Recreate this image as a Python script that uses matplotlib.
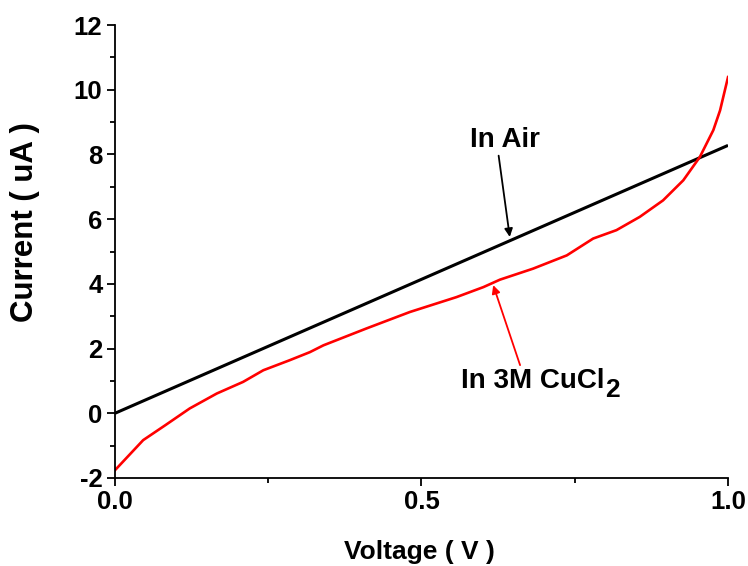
import matplotlib
matplotlib.use("Agg")
import matplotlib.pyplot as plt
from matplotlib.ticker import MultipleLocator

plt.rcParams['font.family'] = ['Liberation Sans', 'DejaVu Sans']
plt.rcParams['font.weight'] = 'bold'
plt.rcParams['axes.unicode_minus'] = False

# Data
air_v = [0.0, 1.0]
air_i = [0.0, 8.28]

cucl2_v = [0.0, 0.046, 0.082, 0.122, 0.166, 0.209, 0.242, 0.285, 0.318, 0.34,
           0.41, 0.481, 0.557, 0.601, 0.628, 0.682, 0.737, 0.780, 0.818, 0.856,
           0.894, 0.927, 0.954, 0.976, 0.987, 1.0]
cucl2_i = [-1.76, -0.83, -0.37, 0.15, 0.61, 0.97, 1.33, 1.64, 1.89, 2.1,
           2.62, 3.13, 3.59, 3.9, 4.13, 4.47, 4.88, 5.40, 5.66, 6.07,
           6.58, 7.2, 7.92, 8.75, 9.36, 10.39]

xticks = [0.0, 0.5, 1.0]
xticklabels = ["0.0", "0.5", "1.0"]
yticks = [-2, 0, 2, 4, 6, 8, 10, 12]

fig = plt.figure(figsize=(7.48, 5.66), dpi=100)
ax = fig.add_axes([0.1537, 0.1555, 0.8196, 0.8003])

ax.plot(air_v, air_i, color='black', lw=2.2, solid_capstyle='butt')
ax.plot(cucl2_v, cucl2_i, color='red', lw=1.9, solid_joinstyle='round')

ax.set_xlim(0, 1.0)
ax.set_ylim(-2, 12)
ax.set_xticks(xticks)
ax.set_xticklabels(xticklabels)
ax.set_yticks(yticks)
ax.xaxis.set_minor_locator(MultipleLocator(0.25))
ax.yaxis.set_minor_locator(MultipleLocator(1))

for s in ['top', 'right']:
    ax.spines[s].set_visible(False)
for s in ['left', 'bottom']:
    ax.spines[s].set_linewidth(1.3)

ax.tick_params(which='major', direction='out', length=6, width=1.3, labelsize=18.5, pad=3)
ax.tick_params(which='minor', direction='out', length=3.5, width=1.3)
for lab in ax.get_xticklabels() + ax.get_yticklabels():
    lab.set_fontweight('bold')

ax.set_xlabel("Voltage ( V )", fontsize=19, fontweight='bold')
ax.set_ylabel("Current ( uA )", fontsize=22.5, fontweight='bold')
ax.xaxis.set_label_coords(0.497, -0.137)
ax.yaxis.set_label_coords(-0.123, 0.565)

ax.annotate("In Air", xy=(0.644, 5.45), xytext=(0.579, 8.45),
            fontsize=20, fontweight='bold', ha='left', va='center',
            arrowprops=dict(arrowstyle='-|>', color='black', lw=1.3,
                            mutation_scale=12, shrinkA=0, shrinkB=0,
                            relpos=(0.39, 0.3)))
ann = ax.annotate("In 3M CuCl", xy=(0.617, 3.96), xytext=(0.564, 1.0),
                  fontsize=20, fontweight='bold', ha='left', va='center',
                  arrowprops=dict(arrowstyle='-|>', color='red', lw=1.3,
                                  mutation_scale=12, shrinkA=0, shrinkB=0,
                                  relpos=(0.42, 1.0)))
ax.annotate("2", xy=(1.0, 0.0), xycoords=ann, xytext=(1, -6),
            textcoords='offset points', fontsize=19, fontweight='bold',
            ha='left', va='bottom')

fig.savefig("out.png", dpi=100)
